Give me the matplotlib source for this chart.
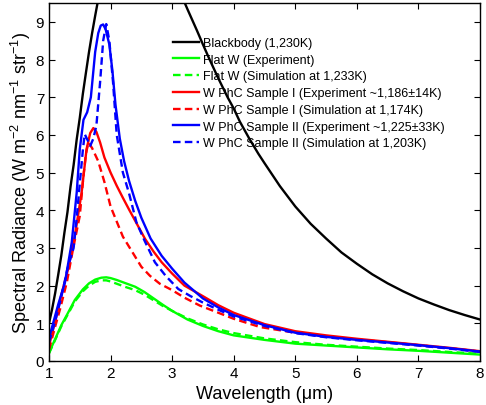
import numpy as np
import matplotlib
matplotlib.use('Agg')
import matplotlib.pyplot as plt

plt.rcParams['font.family'] = ['Liberation Sans', 'DejaVu Sans']
plt.rcParams['mathtext.fontset'] = 'custom'
plt.rcParams['mathtext.rm'] = 'Liberation Sans'
plt.rcParams['mathtext.default'] = 'regular'

# blackbody (1,230K)
bb_x = [1.0, 1.05, 1.1, 1.15, 1.2, 1.25, 1.3, 1.35, 1.4, 1.45, 1.5, 1.55, 1.6, 1.65, 1.7, 1.75,
        1.8, 2.0, 2.4, 2.8, 3.0, 3.1, 3.25, 3.4, 3.5, 3.6, 3.75, 3.9, 4.0, 4.1, 4.25, 4.4, 4.5,
        4.75, 5.0, 5.25, 5.5, 5.75, 6.0, 6.25, 6.5, 6.75, 7.0, 7.25, 7.5, 7.75, 8.0]
bb_y = [1.0, 1.37, 1.8, 2.29, 2.8, 3.4, 3.95, 4.63, 5.2, 5.88, 6.45, 7.09, 7.65, 8.2, 8.7, 9.16,
        9.6, 10.9, 11.6, 11.0, 10.2, 9.9, 9.33, 8.78, 8.4, 8.03, 7.5, 7.0, 6.7, 6.35, 5.91, 5.5, 5.25,
        4.64, 4.1, 3.64, 3.25, 2.88, 2.58, 2.3, 2.06, 1.85, 1.66, 1.5, 1.35, 1.22, 1.1]

# flat W
fw_exp_x = [1.0, 1.1, 1.2, 1.3, 1.42, 1.55, 1.65, 1.75, 1.85, 1.93, 2.0, 2.1, 2.25, 2.4, 2.55,
            2.7, 2.85, 3.0, 3.25, 3.5, 3.75, 4.0, 4.5, 5.0, 5.5, 6.0, 6.5, 7.0, 7.5, 8.0]
fw_exp_y = [0.22, 0.58, 0.95, 1.25, 1.62, 1.9, 2.06, 2.16, 2.21, 2.22, 2.2, 2.15, 2.06, 1.97, 1.83,
            1.66, 1.49, 1.33, 1.1, 0.93, 0.79, 0.68, 0.56, 0.46, 0.41, 0.36, 0.31, 0.27, 0.22, 0.17]
fw_sim_x = [1.0, 1.1, 1.2, 1.3, 1.42, 1.55, 1.65, 1.75, 1.85, 1.93, 2.0, 2.1, 2.25, 2.4, 2.55,
            2.7, 2.85, 3.0, 3.25, 3.5, 3.75, 4.0, 4.5, 5.0, 5.5, 6.0, 6.5, 7.0, 7.5, 8.0]
fw_sim_y = [0.2, 0.56, 0.92, 1.22, 1.58, 1.85, 2.0, 2.1, 2.14, 2.14, 2.11, 2.05, 1.96, 1.88, 1.76,
            1.61, 1.46, 1.33, 1.13, 0.97, 0.84, 0.74, 0.6, 0.5, 0.43, 0.38, 0.33, 0.29, 0.24, 0.19]

# W PhC sample I
s1_exp_x = [1.0, 1.1, 1.2, 1.31, 1.42, 1.53, 1.61, 1.67, 1.72, 1.77, 1.83, 1.9, 2.0, 2.1, 2.2,
            2.3, 2.4, 2.56, 2.7, 2.83, 3.0, 3.2, 3.5, 3.75, 4.0, 4.5, 5.0, 5.5, 6.0, 6.5, 7.0, 7.5, 8.0]
s1_exp_y = [0.4, 1.05, 1.75, 2.44, 3.32, 4.47, 5.62, 6.05, 6.18, 6.08, 5.8, 5.4, 5.0, 4.65, 4.33,
            4.02, 3.72, 3.24, 2.9, 2.62, 2.32, 2.0, 1.72, 1.48, 1.28, 0.98, 0.79, 0.68, 0.59, 0.51,
            0.43, 0.35, 0.26]
s1_sim_x = [1.0, 1.09, 1.18, 1.29, 1.39, 1.5, 1.56, 1.6, 1.64, 1.7, 1.8, 1.9, 2.0, 2.1, 2.2,
            2.35, 2.5, 2.64, 2.8, 3.0, 3.2, 3.45, 3.75, 4.0, 4.43, 5.0, 5.5, 6.0, 6.5, 7.0, 7.5, 8.0]
s1_sim_y = [0.3, 0.85, 1.38, 2.09, 2.97, 3.85, 4.92, 5.5, 5.8, 5.65, 5.3, 4.75, 4.1, 3.7, 3.3,
            2.9, 2.5, 2.26, 2.05, 1.88, 1.68, 1.47, 1.28, 1.12, 0.9, 0.75, 0.65, 0.57, 0.5, 0.42,
            0.34, 0.25]

# W PhC sample II
s2_exp_x = [1.0, 1.15, 1.26, 1.37, 1.45, 1.5, 1.56, 1.62, 1.68, 1.75, 1.8, 1.84, 1.88, 1.92,
            1.98, 2.03, 2.08, 2.15, 2.22, 2.3, 2.4, 2.5, 2.65, 2.83, 3.0, 3.2, 3.5, 3.75, 4.0, 4.5,
            5.0, 5.5, 6.0, 6.5, 7.0, 7.5, 8.0]
s2_exp_y = [0.6, 1.5, 2.09, 3.15, 4.47, 5.62, 6.4, 6.6, 7.0, 8.2, 8.7, 8.9, 8.93, 8.8,
            8.4, 7.7, 6.8, 5.9, 5.3, 4.78, 4.25, 3.8, 3.25, 2.79, 2.45, 2.08, 1.66, 1.42, 1.22, 0.95,
            0.75, 0.64, 0.56, 0.49, 0.42, 0.34, 0.25]
s2_sim_x = [1.0, 1.1, 1.2, 1.3, 1.4, 1.45, 1.5, 1.55, 1.58, 1.63, 1.67, 1.72, 1.77, 1.83, 1.88,
            1.93, 1.98, 2.04, 2.1, 2.2, 2.3, 2.42, 2.55, 2.72, 2.9, 3.1, 3.3, 3.5, 3.75, 4.0, 4.5,
            5.0, 5.5, 6.0, 6.5, 7.0, 7.5, 8.0]
s2_sim_y = [0.5, 1.05, 1.7, 2.45, 3.0, 3.8, 4.7, 5.6, 6.02, 5.85, 5.71, 5.9, 6.25, 7.4, 8.5,
            8.94, 8.5, 7.4, 6.0, 5.0, 4.45, 3.68, 3.2, 2.62, 2.25, 1.91, 1.72, 1.55, 1.36, 1.18, 0.93,
            0.74, 0.63, 0.55, 0.48, 0.41, 0.33, 0.24]

labels = ['Blackbody (1,230K)',
          'Flat W (Experiment)',
          'Flat W (Simulation at 1,233K)',
          'W PhC Sample I (Experiment ~1,186\u00b114K)',
          'W PhC Sample I (Simulation at 1,174K)',
          'W PhC Sample II (Experiment ~1,225\u00b133K)',
          'W PhC Sample II (Simulation at 1,203K)']

fig = plt.figure(figsize=(4.86, 4.06), dpi=100)
ax = fig.add_axes([0.1008, 0.1084, 0.8869, 0.8818])

lw = 1.7
dash = (0, (3.2, 1.8))
ax.plot(bb_x, bb_y, color='k', lw=lw, label=labels[0])
ax.plot(fw_exp_x, fw_exp_y, color='#00ff00', lw=lw, label=labels[1])
ax.plot(fw_sim_x, fw_sim_y, color='#00ff00', lw=lw, ls=dash, label=labels[2])
ax.plot(s1_exp_x, s1_exp_y, color='r', lw=lw, label=labels[3])
ax.plot(s1_sim_x, s1_sim_y, color='r', lw=lw, ls=dash, label=labels[4])
ax.plot(s2_exp_x, s2_exp_y, color='b', lw=lw, label=labels[5])
ax.plot(s2_sim_x, s2_sim_y, color='b', lw=lw, ls=dash, label=labels[6])

ax.set_xlim(1, 8)
ax.set_ylim(0, 9.5)
ax.set_xticks(range(1, 9))
ax.set_yticks(range(0, 10))
ax.tick_params(direction='in', top=True, right=True, length=4, labelsize=11)
for s in ax.spines.values():
    s.set_linewidth(1.0)

ax.set_xlabel('Wavelength (\u03bcm)', fontsize=13, labelpad=4)
ax.set_ylabel('Spectral Radiance (W m$^{-2}$ nm$^{-1}$ str$^{-1}$)', fontsize=13, labelpad=2)

ax.legend(loc='upper left', bbox_to_anchor=(0.287, 0.905), frameon=False, fontsize=9,
          handlelength=2.1, handletextpad=0.3, labelspacing=0.38, borderpad=0, borderaxespad=0)

fig.savefig('out.png', dpi=100)
